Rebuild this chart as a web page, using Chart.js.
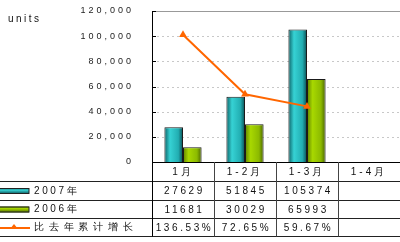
<!DOCTYPE html>
<html>
<head>
<meta charset="utf-8">
<script src="https://cdn.jsdelivr.net/npm/chart.js@4"></script>
<style>
  html, body { margin: 0; padding: 0; background: #fff; }
  #wrap { width: 400px; height: 242px; position: relative; }
</style>
</head>
<body>
<div id="wrap"><canvas id="chart" width="400" height="242"></canvas></div>
<script>
const categories = ['1月', '1-2月', '1-3月', '1-4月'];
const sales2007 = [27629, 51845, 105374, null];
const sales2006 = [11681, 30029, 65993, null];
const growth = [136.53, 72.65, 59.67, null];
const seriesNames = ['2007年', '2006年', '比去年累计增长'];

const cyan = ['#0c6166', '#36d2d4', '#22aeb2', '#0a4d52'];
const green = ['#5f8200', '#a8d800', '#8cba00', '#4a6400'];
const orange = '#ff6600';

// table rows under the plot (header row is the x axis)
const rowLines = [181.5, 200.5, 218.5, 236.5];

// horizontal gradient for each bar, worked out from the x scale
const barFill = (colors, side) => (ctx) => {
    const chart = ctx.chart;
    const x = chart.scales && chart.scales.x;
    if (!x || ctx.dataIndex === undefined) return colors[1];
    const cw = x.width / categories.length;
    const bw = cw * 0.6 / 2;
    const c = x.getPixelForValue(ctx.dataIndex);
    if (!isFinite(c) || !isFinite(bw)) return colors[1];
    const left = side === 0 ? c - bw : c;
    const g = chart.ctx.createLinearGradient(left, 0, left + bw, 0);
    g.addColorStop(0, colors[0]);
    g.addColorStop(0.3, colors[1]);
    g.addColorStop(0.75, colors[2]);
    g.addColorStop(1, colors[3]);
    return g;
};

const spacing = {
    id: 'spacing',
    beforeDraw(chart) {
        chart.ctx.letterSpacing = '3px';
    }
};

const gridPlugin = {
    id: 'dashGrid',
    beforeDatasetsDraw(chart) {
        const { ctx, chartArea } = chart;
        const y = chart.scales.y;
        ctx.save();
        ctx.lineWidth = 1;
        y.ticks.forEach(t => {
            const py = Math.round(y.getPixelForValue(t.value)) + 0.5;
            if (t.value === 0) return;
            ctx.beginPath();
            if (t.value === y.max) {
                ctx.setLineDash([]);
                ctx.strokeStyle = '#999';
            } else {
                ctx.setLineDash([2, 3]);
                ctx.strokeStyle = '#c8c8c8';
            }
            ctx.moveTo(chartArea.left, py);
            ctx.lineTo(chartArea.right, py);
            ctx.stroke();
            // little inner tick
            ctx.setLineDash([]);
            ctx.strokeStyle = '#000';
            ctx.beginPath();
            ctx.moveTo(chartArea.left, py);
            ctx.lineTo(chartArea.left + 4, py);
            ctx.stroke();
        });
        ctx.restore();
    }
};

const tablePlugin = {
    id: 'dataTable',
    afterDraw(chart) {
        const { ctx, chartArea } = chart;
        const x = chart.scales.x;
        const cw = x.width / categories.length;
        ctx.save();
        ctx.strokeStyle = '#222';
        ctx.lineWidth = 1;
        // horizontal rules
        rowLines.forEach(ly => {
            ctx.beginPath();
            ctx.moveTo(0, ly);
            ctx.lineTo(400, ly);
            ctx.stroke();
        });
        // vertical rules
        ctx.strokeStyle = '#000';
        ctx.beginPath();
        ctx.moveTo(chartArea.left + 0.5, chartArea.bottom);
        ctx.lineTo(chartArea.left + 0.5, rowLines[3]);
        ctx.stroke();
        ctx.strokeStyle = '#444';
        for (let i = 1; i < categories.length; i++) {
            const vx = Math.round(x.getPixelForValue(i) - cw / 2) + 0.5;
            ctx.beginPath();
            ctx.moveTo(vx, chartArea.bottom);
            ctx.lineTo(vx, rowLines[3]);
            ctx.stroke();
        }

        // values
        const rows = [
            sales2007.map(v => v === null ? '' : String(v)),
            sales2006.map(v => v === null ? '' : String(v)),
            growth.map(v => v === null ? '' : v.toFixed(2) + '%')
        ];
        ctx.font = '10px "Liberation Sans", Arial, sans-serif';
        ctx.fillStyle = '#111';
        ctx.textBaseline = 'middle';
        ctx.textAlign = 'center';
        ctx.letterSpacing = '2.6px';
        rows.forEach((row, r) => {
            const cy = (rowLines[r] + rowLines[r + 1]) / 2 + 0.5;
            row.forEach((txt, i) => {
                const cx = x.getPixelForValue(i) + 1.5;
                ctx.fillText(txt, cx, cy);
            });
        });

        // legend keys
        const key = (colors, cy) => {
            const g = ctx.createLinearGradient(0, cy - 3, 0, cy + 3);
            g.addColorStop(0, colors[0]);
            g.addColorStop(0.35, colors[1]);
            g.addColorStop(1, colors[3]);
            ctx.fillStyle = g;
            ctx.fillRect(0, cy - 3, 29, 6);
            ctx.strokeStyle = '#222';
            ctx.strokeRect(-0.5, cy - 2.5, 29.5, 5);
        };
        key(cyan, 191);
        key(green, 209.5);
        ctx.strokeStyle = orange;
        ctx.lineWidth = 2;
        ctx.beginPath();
        ctx.moveTo(0, 228);
        ctx.lineTo(30, 228);
        ctx.stroke();
        ctx.fillStyle = orange;
        ctx.beginPath();
        ctx.moveTo(14, 224);
        ctx.lineTo(18, 229);
        ctx.lineTo(10, 229);
        ctx.closePath();
        ctx.fill();

        ctx.fillStyle = '#111';
        ctx.textAlign = 'left';
        ctx.letterSpacing = '2.6px';
        ctx.fillText(seriesNames[0], 34, 191);
        ctx.fillText(seriesNames[1], 34, 209.5);
        ctx.letterSpacing = '4.8px';
        ctx.fillText(seriesNames[2], 34, 227.5);

        // units label
        ctx.letterSpacing = '2.5px';
        ctx.font = '10px "Liberation Sans", Arial, sans-serif';
        ctx.fillText('units', 8, 19);
        ctx.restore();
    }
};

new Chart(document.getElementById('chart'), {
    type: 'bar',
    data: {
        labels: categories,
        datasets: [
            {
                type: 'line',
                label: seriesNames[2],
                data: growth,
                yAxisID: 'y1',
                borderColor: orange,
                backgroundColor: orange,
                borderWidth: 2,
                pointStyle: 'triangle',
                pointRadius: 4.5,
                pointBorderWidth: 0,
                tension: 0,
                order: 0
            },
            {
                label: seriesNames[0],
                data: sales2007,
                backgroundColor: barFill(cyan, 0),
                borderColor: '#1a1a1a',
                borderWidth: 1,
                categoryPercentage: 0.6,
                barPercentage: 1.0,
                order: 1
            },
            {
                label: seriesNames[1],
                data: sales2006,
                backgroundColor: barFill(green, 1),
                borderColor: '#1a1a1a',
                borderWidth: 1,
                categoryPercentage: 0.6,
                barPercentage: 1.0,
                order: 1
            }
        ]
    },
    options: {
        responsive: false,
        animation: false,
        devicePixelRatio: 1,
        layout: { autoPadding: false, padding: { left: 0, right: 0, top: 11, bottom: 61 } },
        plugins: {
            legend: { display: false },
            tooltip: { enabled: false }
        },
        scales: {
            x: {
                grid: { display: false, drawTicks: false },
                border: { color: '#000', width: 1 },
                ticks: {
                    color: '#111',
                    padding: 4,
                    font: { family: '"Liberation Sans", Arial, sans-serif', size: 10 },
                    maxRotation: 0
                },
                afterFit(scale) {
                    scale.height = 19;
                    scale.paddingLeft = 0;
                    scale.paddingRight = 0;
                }
            },
            y: {
                min: 0,
                max: 120000,
                grid: { display: false, drawTicks: false },
                border: { color: '#000', width: 1 },
                ticks: {
                    stepSize: 20000,
                    color: '#222',
                    padding: 18,
                    font: { family: '"Liberation Sans", Arial, sans-serif', size: 9 },
                    callback: v => v.toLocaleString('en-US')
                },
                afterFit(scale) {
                    scale.width = 152;
                    scale.paddingTop = 0;
                    scale.paddingBottom = 0;
                }
            },
            y1: {
                display: false,
                min: 0,
                max: 162
            }
        }
    },
    plugins: [spacing, gridPlugin, tablePlugin]
});
</script>
</body>
</html>
